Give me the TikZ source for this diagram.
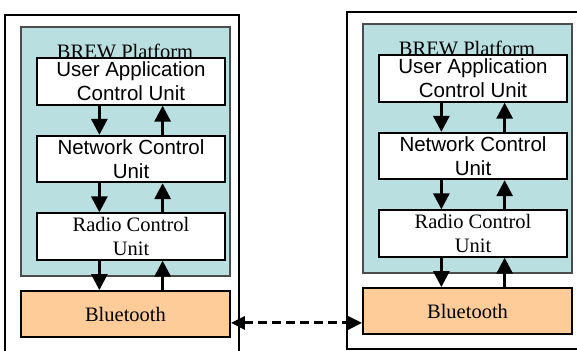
\documentclass[tikz,border=0pt]{standalone}
\usepackage{fontspec}
\setmainfont{Liberation Serif}
\newfontfamily\arialfont{Liberation Sans}
\usetikzlibrary{arrows.meta,calc,positioning}

\definecolor{brewteal}{HTML}{B9DFE1}
\definecolor{btorange}{HTML}{FECC99}

\tikzset{
	devframe/.style={draw=black, line width=1.5pt, minimum width=234pt, minimum height=337pt, inner sep=0pt},
	platform/.style={draw=black!70, fill=brewteal, line width=1.5pt, minimum width=209pt, minimum height=249pt, inner sep=0pt},
	unitbox/.style={draw=black, fill=white, line width=1.8pt, minimum width=188pt, minimum height=46.5pt, inner sep=0pt, align=center},
	btbox/.style={draw=black, fill=btorange, line width=1.8pt, minimum width=209pt, minimum height=46pt, inner sep=0pt},
	flow/.style={line width=3pt, -{Triangle[width=16pt,length=16pt]}},
	link/.style={line width=3pt, dash pattern=on 9pt off 5pt, {Triangle[width=13pt,length=14pt]}-{Triangle[width=13pt,length=14pt]}}
}

\begin{document}
\begin{tikzpicture}[x=1pt, y=-1pt, font=\fontsize{20.5}{24}\selectfont]
		\useasboundingbox (0,0) rectangle (577,350);
		\clip (0,0) rectangle (577,350);
		% two handsets, the right one shifted
		\foreach \s/\dx/\dy in {L/0/0, R/342/-3}{
			\begin{scope}[shift={(\dx,\dy)}]
				\node[devframe] (frame\s) at (122,183.5) {};
				\node[platform] (brew\s) at (125.5,151.5) {};
				\node[anchor=base] (brewlabel\s) at (125,58.5) {BREW Platform};
				\node[unitbox, font=\arialfont\fontsize{20.5}{24}\selectfont] (user\s) at (131,81.5) {User Application\\Control Unit};
				\node[unitbox, font=\arialfont\fontsize{20.5}{24}\selectfont] (net\s) at (131,159) {Network Control\\Unit};
				\node[unitbox] (radio\s) at (131,236.5) {Radio Control\\Unit};
				\node[btbox] (bt\s) at (125.5,314) {Bluetooth};
			\end{scope}
			\foreach \a/\b in {user/net, net/radio, radio/bt}{
				\path ($(\a\s.south west)!1/3!(\a\s.south east)$) coordinate (dn\a\s)
				      ($(\a\s.south west)!2/3!(\a\s.south east)$) coordinate (up\a\s);
				\draw[flow] (dn\a\s) -- (dn\a\s |- \b\s.north);
				\draw[flow] (up\a\s |- \b\s.north) -- (up\a\s);
			}
		}
		% bluetooth link
		\coordinate (linkL) at ($(btL.south east)+(0,-15)$);
		\draw[link] (linkL) -- (linkL -| btR.west);
	\end{tikzpicture}
\end{document}
